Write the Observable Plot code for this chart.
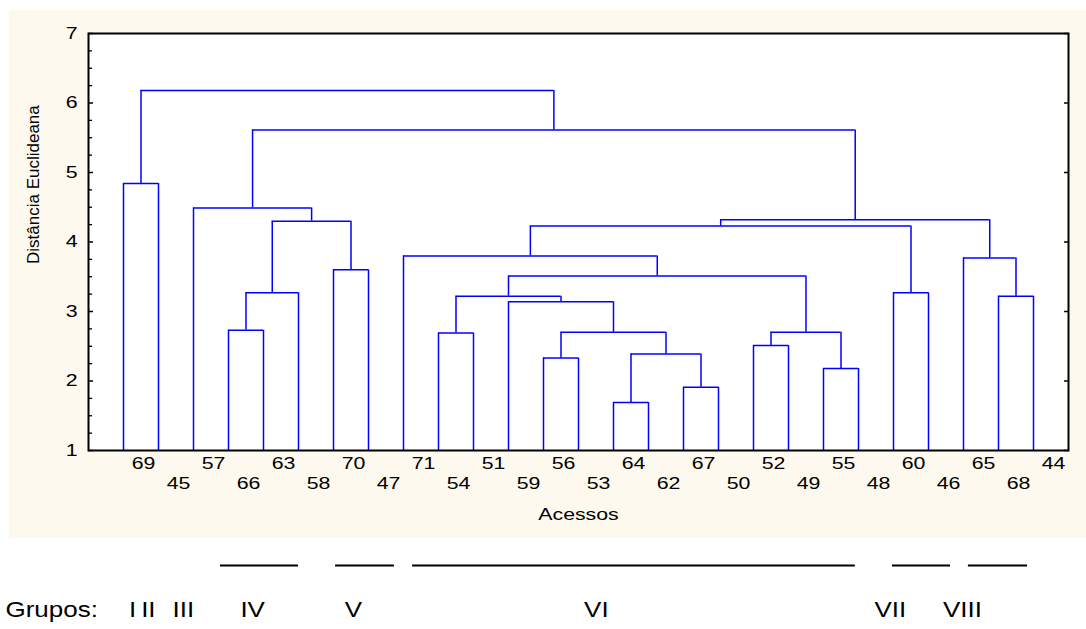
<!DOCTYPE html>
<html><head><meta charset="utf-8">
<script src="https://cdn.jsdelivr.net/npm/d3@7"></script>
<script src="https://cdn.jsdelivr.net/npm/@observablehq/plot@0.6"></script>
<style>
html,body{margin:0;padding:0;background:#fff;}
#wrap{position:relative;width:1086px;height:629px;overflow:hidden;}
#panel{position:absolute;left:9px;top:10px;width:1077px;height:528px;background:#fdf9ee;}
#chart{position:absolute;left:0;top:0;}
#groups{position:absolute;left:0;top:540px;}
</style></head><body>
<div id="wrap"><div id="panel"></div><div id="chart"></div><div id="groups"></div></div>
<script>
// Leaf labels (accessions) in dendrogram order
const leafLabels = ["69","45","57","66","63","58","70","47","71","54","51","59","56","53","64","62","67","50","52","49","55","48","60","46","65","68","44"];
// Linkage: ids 0..26 are leaves, merge i creates cluster id 27+i
const mergeLeft   = [0,3,28,6,29,2,9,12,14,16,35,34,11,33,18,20,41,40,8,22,45,25,24,47,32,27];
const mergeRight  = [1,4,5,7,30,31,10,13,15,17,36,37,38,39,19,21,42,43,44,23,46,26,48,49,50,51];
const mergeHeight = [4.84,2.73,3.27,3.60,4.30,4.49,2.69,2.33,1.69,1.91,2.39,2.70,3.14,3.22,2.51,2.18,2.70,3.51,3.80,3.27,4.23,3.22,3.77,4.32,5.61,6.18];
// Y axis
const yTicks = [1,2,3,4,5,6,7];
const yMinorTicks = [1.25,1.5,1.75,2.25,2.5,2.75,3.25,3.5,3.75,4.25,4.5,4.75,5.25,5.5,5.75,6.25,6.5,6.75];
// Groups annotation (positions in leaf-index units)
const groupNames   = ["I","II","III","IV","V","VI","VII","VIII"];
const groupCenters = [0.26,0.71,1.71,3.69,6.57,13.51,21.91,23.97];
const groupLineNames = ["IV","V","VI","VII","VIII"];
const groupLineStart = [2.77,6.06,8.26,21.97,24.14];
const groupLineEnd   = [5.0,7.74,20.91,23.63,25.83];

// build dendrogram segments
const n = leafLabels.length;
const pos = leafLabels.map((d,i)=>i);
const hgt = leafLabels.map(()=>yTicks[0]);
const verticals = [], horizontals = [];
mergeLeft.forEach((l,i)=>{
  const r = mergeRight[i], H = mergeHeight[i];
  verticals.push({x: pos[l], y1: hgt[l], y2: H});
  verticals.push({x: pos[r], y1: hgt[r], y2: H});
  horizontals.push({y: H, x1: pos[l], x2: pos[r]});
  pos.push((pos[l]+pos[r])/2);
  hgt.push(H);
});

const font = "'Liberation Sans', Arial, sans-serif";
const blue = "#0000ff";
const xDomain = [-1, n];

const chart = Plot.plot({
  width: 1086, height: 540,
  marginLeft: 88, marginRight: 18, marginTop: 33, marginBottom: 90,
  x: {domain: xDomain, axis: null},
  y: {domain: [1, 7]},
  style: {background: "transparent", fontFamily: font, fontSize: "16px", color: "#000", overflow: "visible"},
  marks: [
    Plot.frame({fill: "white", stroke: null}),
    Plot.ruleX(verticals, {x: "x", y1: "y1", y2: "y2", stroke: blue, strokeWidth: 1.5}),
    Plot.ruleY(horizontals, {y: "y", x1: "x1", x2: "x2", stroke: blue, strokeWidth: 1.5}),
    Plot.ruleY(yMinorTicks, {y: d=>d, insetRight: 976, stroke: "#000", strokeWidth: 1.3}),
    Plot.ruleY(yTicks, {y: d=>d, insetRight: 975, stroke: "#000", strokeWidth: 1.5}),
    Plot.ruleY(yTicks, {y: d=>d, insetLeft: 976, stroke: "#000", strokeWidth: 1.5}),
    Plot.axisY({ticks: yTicks, tickSize: 0, tickPadding: 11, label: null, tickFormat: d=>String(d)}),
    Plot.frame({stroke: "#000", strokeWidth: 2}),
    Plot.text(leafLabels, {x: (d,i)=>i, filter: (d,i)=>i%2===0, frameAnchor: "bottom", dx: 20, dy: 18}),
    Plot.text(leafLabels, {x: (d,i)=>i, filter: (d,i)=>i%2===1, frameAnchor: "bottom", dx: 20, dy: 38}),
    Plot.text(["Acessos"], {frameAnchor: "bottom", dy: 69}),
    Plot.text(["Distância Euclideana"], {frameAnchor: "left", dx: -55, dy: 22, rotate: -90, fontSize: 17})
  ]
});

const groups = Plot.plot({
  width: 1086, height: 89,
  marginLeft: 88, marginRight: 18, marginTop: 0, marginBottom: 0,
  x: {domain: xDomain, axis: null},
  y: {domain: [0, 1], range: [69, 25], axis: null},
  style: {background: "transparent", fontFamily: font, fontSize: "22px", color: "#000", overflow: "visible"},
  marks: [
    Plot.ruleY(groupLineNames, {y: () => 1, x1: (d,i)=>groupLineStart[i], x2: (d,i)=>groupLineEnd[i], stroke: "#000", strokeWidth: 2}),
    Plot.text(groupNames, {x: (d,i)=>groupCenters[i], y: () => 0}),
    Plot.text(["Grupos:"], {frameAnchor: "left", y: () => 0, dx: -83, textAnchor: "start"})
  ]
});

document.getElementById("chart").appendChild(chart);
document.getElementById("groups").appendChild(groups);

// widen horizontal text to match the stretched look of the original
function stretch(svg, factor) {
  d3.select(svg).selectAll("text").each(function() {
    const t = d3.select(this);
    const tr = (t.attr("transform") || "") + (this.parentNode.getAttribute("transform") || "");
    if (/rotate/.test(tr)) return;
    const len = this.getComputedTextLength();
    if (len > 0) t.attr("textLength", len * factor).attr("lengthAdjust", "spacingAndGlyphs");
  });
}
stretch(chart, 1.33);
stretch(groups, 1.18);
</script>
</body></html>
